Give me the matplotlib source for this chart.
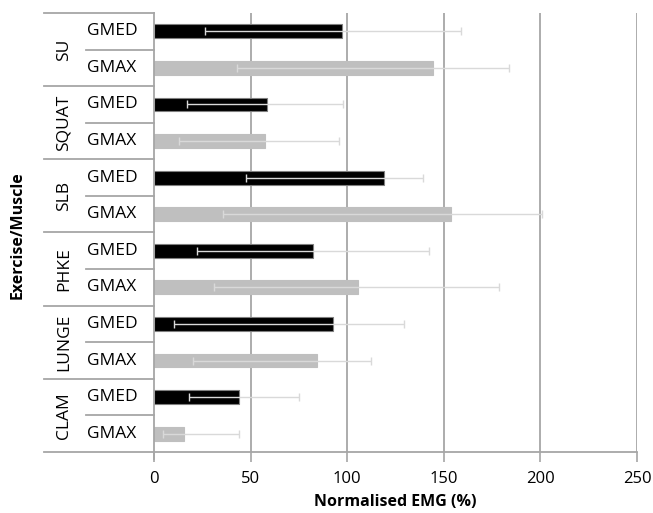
import matplotlib.pyplot as plt
import matplotlib.transforms as mtransforms
import numpy as np

plt.rcParams['font.family'] = ['Open Sans', 'DejaVu Sans']

exercises = ["SU", "SQUAT", "SLB", "PHKE", "LUNGE", "CLAM"]
muscles = ["GMED", "GMAX"]

# mean normalised EMG (%) per exercise, top to bottom
gmed_mean = [97.5, 58.3, 119.2, 82.5, 92.6, 44.2]
gmax_mean = [144.6, 57.5, 153.7, 105.7, 84.2, 15.7]
# error bar ends
gmed_low = [26.4, 16.9, 47.6, 22.1, 10.4, 18.0]
gmed_high = [158.7, 98.0, 139.1, 142.1, 129.4, 74.9]
gmax_low = [43.1, 13.1, 35.5, 31.2, 20.3, 4.5]
gmax_high = [183.9, 95.8, 200.7, 178.4, 112.5, 44.2]

xticks = [0, 50, 100, 150, 200, 250]

W, H = 653, 513
fig = plt.figure(figsize=(W / 100, H / 100), dpi=100)
left, right, top, bottom = 154, 637, 13, 452
ax = fig.add_axes([left / W, 1 - bottom / H, (right - left) / W, (bottom - top) / H])

n = len(exercises)
y_med = np.arange(n) * 2
y_max = y_med + 1
bh = 0.38

err_kw = dict(ecolor="#d9d9d9", elinewidth=1.0, capsize=3, capthick=1.0)
ax.barh(y_med, gmed_mean, height=bh, color="black", edgecolor="#7f7f7f", linewidth=0.8, zorder=2)
ax.errorbar(gmed_mean, y_med,
            xerr=[np.subtract(gmed_mean, gmed_low), np.subtract(gmed_high, gmed_mean)],
            fmt="none", zorder=3, **err_kw)
ax.barh(y_max, gmax_mean, height=bh, color="#bfbfbf", edgecolor="#bfbfbf", linewidth=0.8, zorder=2)
ax.errorbar(gmax_mean, y_max,
            xerr=[np.subtract(gmax_mean, gmax_low), np.subtract(gmax_high, gmax_mean)],
            fmt="none", zorder=3, **err_kw)

ax.set_xlim(0, 250)
ax.set_ylim(2 * n - 0.5, -0.5)
ax.set_xticks(xticks)
ax.set_xticklabels([str(t) for t in xticks], fontsize=12)
ax.tick_params(axis="x", length=7, color="#a6a6a6", width=1.2, pad=7)
ax.set_yticks([])
for t in xticks[1:]:
    ax.axvline(t, color="#a6a6a6", lw=1.3, zorder=1)
for s in ["top", "right"]:
    ax.spines[s].set_visible(False)
ax.spines["left"].set_color("#a6a6a6")
ax.spines["left"].set_linewidth(1.3)
ax.spines["bottom"].set_color("#a6a6a6")
ax.spines["bottom"].set_linewidth(1.3)

# category table on the left
trans = mtransforms.blended_transform_factory(ax.transAxes, ax.transData)
span = right - left
x_out = (44 - left) / span
x_in = (86 - left) / span
lc = "#a6a6a6"
for k in range(n + 1):
    yb = 2 * k - 0.5
    ax.plot([x_out, 0], [yb, yb], color=lc, lw=1.3, transform=trans, clip_on=False)
for k in range(n):
    yb = 2 * k + 0.5
    ax.plot([x_in, 0], [yb, yb], color=lc, lw=1.3, transform=trans, clip_on=False)
ax.plot([0, 0], [2 * n - 0.5, 2 * n - 0.5 + 0.2], color=lc, lw=1.3, transform=trans, clip_on=False)

x_grp = (64 - left) / span
x_mus = (112 - left) / span
for i, ex in enumerate(exercises):
    ax.text(x_grp, 2 * i + 0.5, ex, rotation=90, ha="center", va="center",
            fontsize=12.5, transform=trans)
    ax.text(x_mus, y_med[i], muscles[0], ha="center", va="center", fontsize=12.5, transform=trans)
    ax.text(x_mus, y_max[i], muscles[1], ha="center", va="center", fontsize=12.5, transform=trans)

fig.text(18 / W, 1 - 235 / H, "Exercise/Muscle", rotation=90, ha="center", va="center",
         fontsize=11.5, fontweight="bold")
fig.text((left + right) / 2 / W, 1 - 502 / H, "Normalised EMG (%)", ha="center", va="center",
         fontsize=11.5, fontweight="bold")

fig.savefig("out.png", dpi=100)
